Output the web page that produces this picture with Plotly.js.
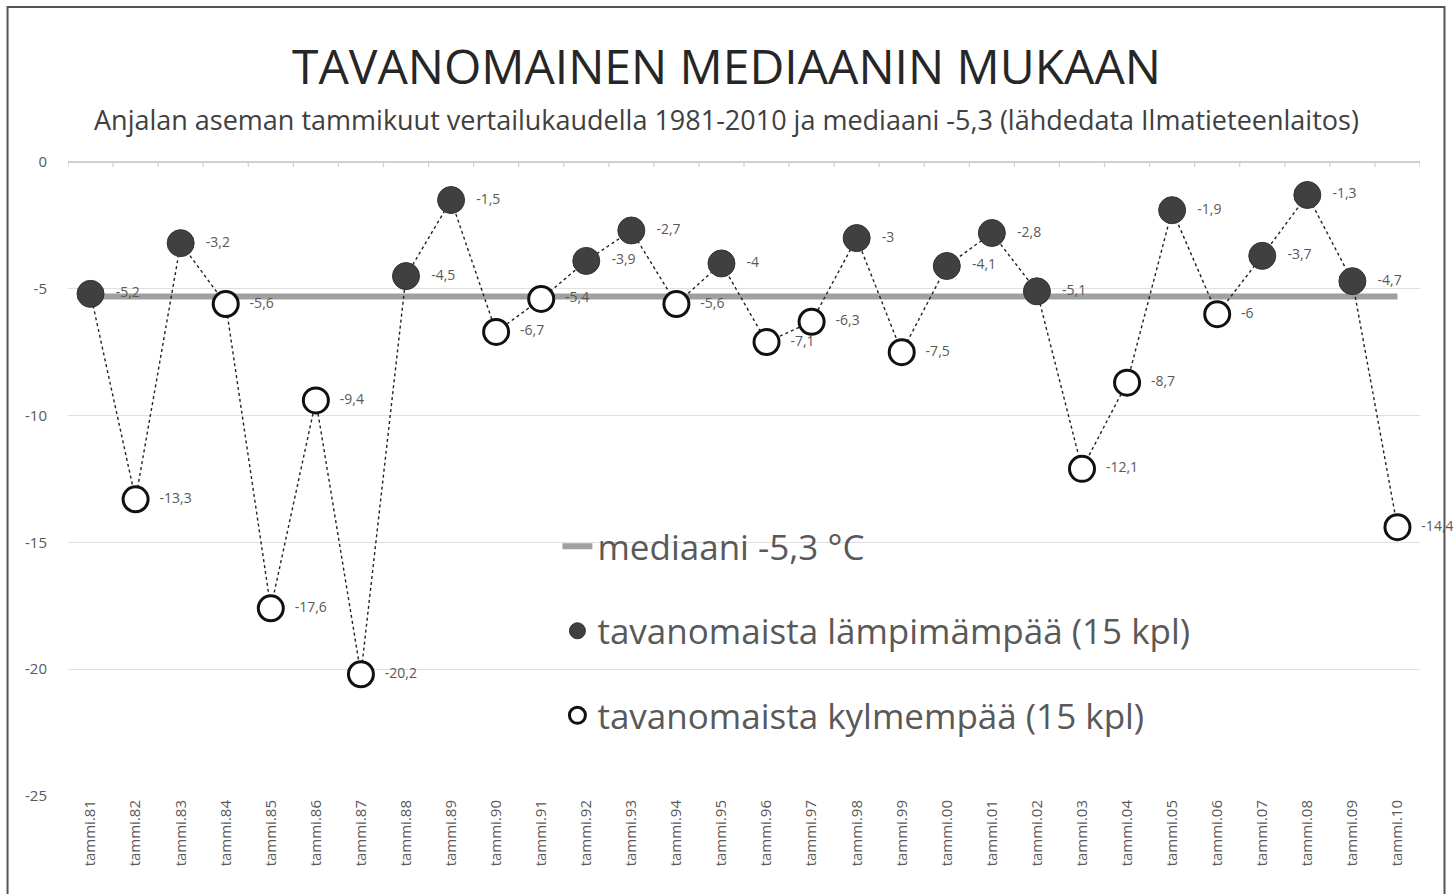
<!DOCTYPE html>
<html>
<head>
<meta charset="utf-8">
<script src="https://cdn.plot.ly/plotly-3.0.1.min.js"></script>
<style>
html,body{margin:0;padding:0;background:#fff;}
#chart{width:1453px;height:894px;}
</style>
</head>
<body>
<div id="chart"></div>
<script>
// ---- DATA ----
const years = ["81","82","83","84","85","86","87","88","89","90","91","92","93","94","95","96","97","98","99","00","01","02","03","04","05","06","07","08","09","10"];
const categories = years.map(y => "tammi." + y);
const temps = [-5.2,-13.3,-3.2,-5.6,-17.6,-9.4,-20.2,-4.5,-1.5,-6.7,-5.4,-3.9,-2.7,-5.6,-4,-7.1,-6.3,-3,-7.5,-4.1,-2.8,-5.1,-12.1,-8.7,-1.9,-6,-3.7,-1.3,-4.7,-14.4];
const MEDIAN = -5.3;
const yTicks = [0,-5,-10,-15,-20,-25];
const titleText = "TAVANOMAINEN MEDIAANIN MUKAAN";
const subtitleText = "Anjalan aseman tammikuut vertailukaudella 1981-2010 ja mediaani -5,3 (lähdedata Ilmatieteenlaitos)";
const legendMedian = "mediaani -5,3 °C";
const legendWarm = "tavanomaista lämpimämpää (15 kpl)";
const legendCold = "tavanomaista kylmempää (15 kpl)";

const fmt = v => "\u00a0\u00a0" + String(v).replace('.', ',');
const warmY = temps.map(v => v > MEDIAN ? v : null);
const coldY = temps.map(v => v <= MEDIAN ? v : null);
const warmT = temps.map(v => v > MEDIAN ? fmt(v) : "");
const coldT = temps.map(v => v <= MEDIAN ? fmt(v) : "");

const FONT = "Open Sans, Liberation Sans, sans-serif";
const labelFont = {family: FONT, size: 14, color: "#595959"};

const traces = [
  {
    x: [categories[0], categories[categories.length-1]],
    y: [MEDIAN, MEDIAN],
    mode: "lines",
    line: {color: "#a0a0a0", width: 6},
    name: legendMedian,
    legendgroup: "a",
    hoverinfo: "skip"
  },
  {
    x: categories, y: temps,
    mode: "lines",
    line: {color: "#222", width: 1.4, dash: "dot"},
    showlegend: false,
    hoverinfo: "skip"
  },
  {
    x: categories, y: warmY,
    mode: "markers+text",
    marker: {size: 27, color: "#404040", line: {color: "#333", width: 1}},
    text: warmT, textposition: "middle right", textfont: labelFont,
    name: legendWarm, legendgroup: "b", cliponaxis: false
  },
  {
    x: categories, y: coldY,
    mode: "markers+text",
    marker: {size: 25, color: "#ffffff", line: {color: "#111", width: 3}},
    text: coldT, textposition: "middle right", textfont: labelFont,
    name: legendCold, legendgroup: "c", cliponaxis: false
  }
];

const layout = {
  width: 1453, height: 894,
  margin: {l: 67.5, r: 32.5, t: 162, b: 98},
  paper_bgcolor: "#ffffff", plot_bgcolor: "#ffffff",
  font: {family: FONT, color: "#595959"},
  title: {
    text: titleText,
    font: {family: FONT, size: 48, color: "#262626"},
    x: 0.5, xanchor: "center", y: 0.925, yanchor: "middle"
  },
  annotations: [{
    text: subtitleText, xref: "paper", yref: "paper",
    x: 0.487, y: (796-120)/634, xanchor: "center", yanchor: "middle",
    showarrow: false, font: {family: FONT, size: 27, color: "#404040"}
  }],
  xaxis: {
    type: "category",
    categoryorder: "array", categoryarray: categories,
    tickangle: -90,
    tickfont: {family: FONT, size: 15, color: "#595959"},
    showgrid: false, zeroline: false, showline: false,
    ticks: "", range: [-0.5, categories.length-0.5]
  },
  yaxis: {
    range: [-25, 0],
    tickvals: yTicks, ticktext: yTicks.map(String),
    tickfont: {family: FONT, size: 15, color: "#595959"},
    showgrid: true, gridcolor: "#e0e0e0", gridwidth: 1.2,
    zeroline: true, zerolinecolor: "#d0d0d0", zerolinewidth: 1.5,
    showline: false, ticks: "", ticklabelstandoff: 20
  },
  legend: {
    x: 0.362, y: 0.44, xanchor: "left", yanchor: "top",
    bgcolor: "rgba(0,0,0,0)",
    font: {family: FONT, size: 35, color: "#595959"},
    tracegroupgap: 36, itemwidth: 30
  },
  showlegend: true,
  shapes: [
    {type: "rect", xref: "paper", yref: "paper",
     x0: (7-67.5)/1353, x1: (1445-67.5)/1353, y0: (796-905)/634, y1: (796-7)/634,
     line: {color: "#555", width: 2}, fillcolor: "rgba(0,0,0,0)"}
  ]
};

// top axis tick marks at category boundaries (along y=0)
for (let i = 0; i <= categories.length; i++) {
  layout.shapes.push({
    type: "line", xref: "x", yref: "y",
    x0: i - 0.5, x1: i - 0.5, y0: 0, y1: -0.2,
    line: {color: "#d0d0d0", width: 1.2}
  });
}

Plotly.newPlot("chart", traces, layout, {displayModeBar: false, staticPlot: true});
</script>
</body>
</html>
